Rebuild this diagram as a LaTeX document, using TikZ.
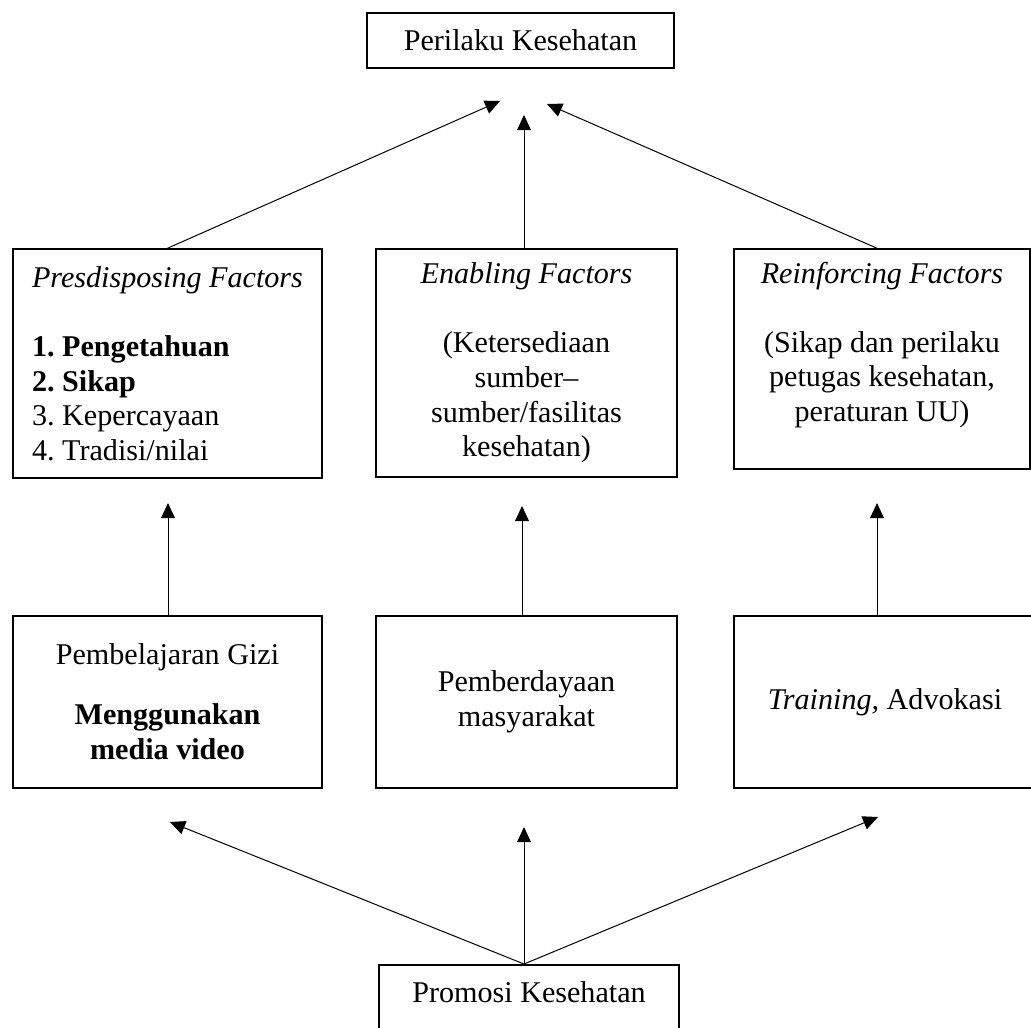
\documentclass[tikz,border=0pt]{standalone}
\usepackage{fontspec}
\setmainfont{Liberation Serif}
\usetikzlibrary{arrows.meta}
\frenchspacing

\begin{document}
\begin{tikzpicture}[
  every node/.style={font=\fontsize{12}{13.8}\selectfont},
  box/.style={draw, line width=0.6pt, inner sep=0pt, align=center},
  arr/.style={-{Triangle[length=6pt, width=5.5pt]}, line width=0.4pt},
]
\useasboundingbox (0,0) rectangle (14.434,14.378);

% Top
\node[box, minimum width=4.30cm, minimum height=0.77cm] (perilaku) at (7.287, 13.811)
  {Perilaku Kesehatan};

% Factors
\node[box, align=left, minimum width=4.326cm, minimum height=3.206cm] (pred) at (2.345, 9.289)
  {\textit{Presdisposing Factors}\\[13.8pt]
   \textbf{1. Pengetahuan}\\ \textbf{2. Sikap}\\ 3. Kepercayaan\\ 4. Tradisi/nilai};
\node[box, minimum width=4.214cm, minimum height=3.192cm] (enab) at (7.371, 9.296)
  {\textit{Enabling Factors}\\[13.8pt]
   (Ketersediaan\\ sumber--\\ sumber/fasilitas\\ kesehatan)};
\node[box, minimum width=4.144cm, minimum height=3.08cm] (reinf) at (12.348, 9.352)
  {\textit{Reinforcing Factors}\\[13.8pt]
   (Sikap dan perilaku\\ petugas kesehatan,\\ peraturan UU)\\ \mbox{}};

% Programs
\node[box, minimum width=4.326cm, minimum height=2.408cm] (gizi) at (2.345, 4.55)
  {Pembelajaran Gizi\\[0.355cm]
   \textbf{Menggunakan}\\ \textbf{media video}};
\node[box, minimum width=4.214cm, minimum height=2.408cm] (daya) at (7.371, 4.55)
  {Pemberdayaan\\ masyarakat};
\node[box, minimum width=4.228cm, minimum height=2.408cm] (train) at (12.39, 4.55)
  {\textit{Training,} Advokasi};

% Bottom
\node[box, anchor=north, minimum width=4.2cm, minimum height=1.064cm,
  text height=0.53cm, text depth=0.53cm] (promosi) at (7.406, 0.882)
  {Promosi Kesehatan};

% Arrow ends
\coordinate (tL) at (7.0, 12.964);
\coordinate (tC) at (7.336, 12.768);
\coordinate (tR) at (7.658, 12.922);
\coordinate (m1) at (2.352, 7.336);
\coordinate (m2) at (7.308, 7.294);
\coordinate (m3) at (12.278, 7.336);
\coordinate (b1) at (2.38, 2.87);
\coordinate (b2) at (7.336, 2.80);
\coordinate (b3) at (12.292, 2.94);

% Factors to behaviour
\draw[arr] (pred.north) -- (tL);
\draw[arr] (tC |- enab.north) -- (tC);
\draw[arr] (m3 |- reinf.north) -- (tR);

% Programs to factors
\draw[arr] (m1 |- gizi.north) -- (m1);
\draw[arr] (m2 |- daya.north) -- (m2);
\draw[arr] (m3 |- train.north) -- (m3);

% Promotion to programs
\draw[arr] (b2 |- promosi.north) -- (b1);
\draw[arr] (b2 |- promosi.north) -- (b2);
\draw[arr] (b2 |- promosi.north) -- (b3);

\end{tikzpicture}
\end{document}
